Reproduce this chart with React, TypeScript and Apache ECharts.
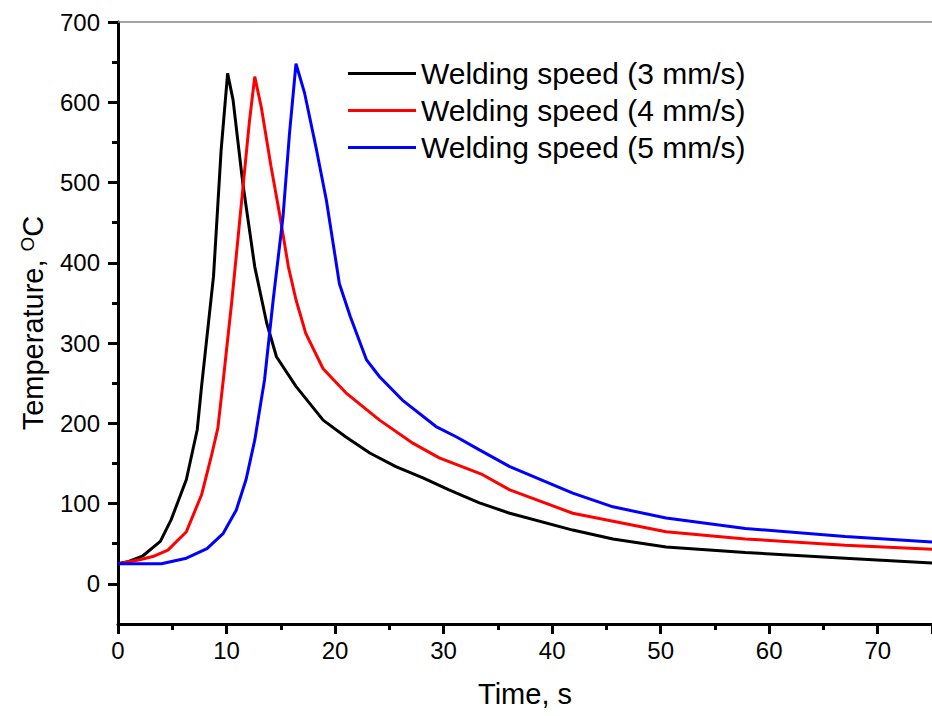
import React, { useEffect, useRef } from "react";
import * as echarts from "echarts";

const seriesNames = [
  "Welding speed (3 mm/s)",
  "Welding speed (4 mm/s)",
  "Welding speed (5 mm/s)",
];

const time3 = [0, 1, 2.3, 3.9, 4.9, 6.3, 7.3, 7.7, 8.8, 9.5, 10.1, 10.6, 11.5, 12.6, 13.7, 14.6, 16.4, 18.9, 21.0, 23.2, 25.6, 28.1, 30.5, 33.3, 36.1, 41.9, 45.6, 50.5, 57.8, 67.0, 75];
const temp3 = [25, 28, 35, 53, 80, 130, 192, 246, 383, 540, 636, 603, 499, 395, 325, 283, 246, 204, 183, 163, 146, 132, 117, 101, 88, 67, 56, 46, 39, 32, 26];

const time4 = [0, 2, 3.2, 4.6, 6.3, 7.7, 8.6, 9.2, 9.7, 10.5, 11.4, 12.1, 12.6, 13.2, 14.1, 14.9, 15.7, 16.4, 17.3, 18.9, 21.0, 24.1, 27.2, 29.6, 33.6, 36.1, 41.9, 50.5, 57.8, 67.0, 75];
const temp4 = [25, 30, 34, 42, 65, 111, 159, 194, 254, 354, 478, 575, 632, 594, 520, 460, 395, 354, 312, 268, 238, 204, 175, 157, 136, 117, 88, 65, 56, 48, 43];

const time5 = [0, 4.0, 6.3, 8.2, 9.7, 10.9, 11.8, 12.6, 13.1, 13.5, 14.3, 15.2, 15.8, 16.4, 17.2, 18.3, 19.2, 20.4, 21.4, 22.9, 24.1, 26.2, 29.3, 31.2, 33.3, 36.1, 41.9, 45.6, 50.5, 57.8, 67.0, 75];
const temp5 = [25, 25, 32, 44, 63, 92, 130, 179, 221, 254, 354, 457, 561, 648, 611, 540, 478, 374, 333, 279, 258, 229, 196, 183, 167, 146, 113, 96, 82, 69, 59, 52];

const yMajorTicks = [0, 100, 200, 300, 400, 500, 600, 700];
const yMinorTicks = [50, 150, 250, 350, 450, 550, 650];

const colors = ["#000000", "#ff0000", "#0000ff"];
const FONT = "'Liberation Sans', Arial, sans-serif";

const zip = (xs: number[], ys: number[]) => xs.map((x, i) => [x, ys[i]]);

export default function App() {
  const ref = useRef<HTMLDivElement>(null);
  useEffect(() => {
    if (!ref.current) return;
    const chart = echarts.init(ref.current, undefined, { renderer: "svg" });
    const lineData = [zip(time3, temp3), zip(time4, temp4), zip(time5, temp5)];
    chart.setOption({
      animation: false,
      backgroundColor: "#ffffff",
      textStyle: { fontFamily: FONT, color: "#000" },
      grid: { left: 118, top: 22, right: 0, bottom: 92, containLabel: false },
      legend: {
        orient: "vertical",
        left: 343,
        top: 53,
        icon: "rect",
        itemWidth: 68,
        itemHeight: 3,
        itemGap: 6,
        data: seriesNames,
        textStyle: { fontFamily: FONT, fontSize: 30, color: "#000", lineHeight: 31 },
      },
      xAxis: [
        {
          type: "value",
          min: 0,
          max: 75,
          interval: 10,
          name: "Time, s",
          nameLocation: "middle",
          nameGap: 55,
          nameTextStyle: { fontFamily: FONT, fontSize: 29, color: "#000" },
          axisLine: { show: true, onZero: false, lineStyle: { color: "#000", width: 3 } },
          axisTick: { show: true, inside: false, length: 10, lineStyle: { color: "#000", width: 3 } },
          minorTick: { show: true, splitNumber: 2, length: 6, lineStyle: { color: "#000", width: 3 } },
          axisLabel: { margin: 14, fontFamily: FONT, fontSize: 24, color: "#000", showMaxLabel: false },
          splitLine: { show: false },
        },
        {
          type: "value",
          position: "top",
          min: 0,
          max: 75,
          axisLine: { show: true, onZero: false, lineStyle: { color: "#888888", width: 1.5 } },
          axisTick: { show: false },
          axisLabel: { show: false },
          splitLine: { show: false },
        },
      ],
      yAxis: [
        {
          type: "value",
          min: -50,
          max: 700,
          name: "Temperature, {sup|O}C",
          nameLocation: "middle",
          nameGap: 71,
          nameRotate: 90,
          nameTextStyle: {
            fontFamily: FONT,
            fontSize: 29,
            color: "#000",
            rich: {
              sup: { fontFamily: FONT, fontSize: 19, color: "#000", verticalAlign: "top", padding: [0, 0, 10, 0] },
            },
          },
          axisLine: { show: true, onZero: false, lineStyle: { color: "#000", width: 3 } },
          axisTick: { show: true, inside: false, length: 10, customValues: yMajorTicks, lineStyle: { color: "#000", width: 3 } },
          axisLabel: { margin: 18, customValues: yMajorTicks, fontFamily: FONT, fontSize: 24, color: "#000" },
          splitLine: { show: false },
        },
        {
          type: "value",
          min: -50,
          max: 700,
          position: "left",
          axisLine: { show: false, onZero: false },
          axisTick: { show: true, inside: false, length: 6, customValues: yMinorTicks, lineStyle: { color: "#000", width: 3 } },
          axisLabel: { show: false },
          splitLine: { show: false },
        },
      ],
      series: lineData.map((d, i) => ({
        name: seriesNames[i],
        type: "line",
        data: d,
        showSymbol: false,
        symbol: "none",
        lineStyle: { color: colors[i], width: 3 },
        itemStyle: { color: colors[i] },
        clip: true,
      })),
    });
    return () => chart.dispose();
  }, []);
  return (
    <div
      ref={ref}
      style={{ position: "absolute", left: 0, top: 0, width: 932, height: 716, background: "#fff" }}
    />
  );
}
